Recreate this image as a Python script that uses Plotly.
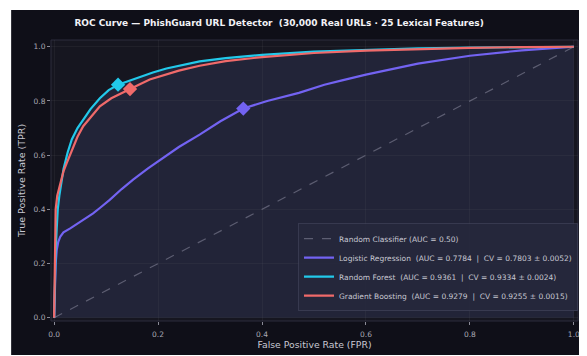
import plotly.graph_objects as go

# ---------------- data ----------------
diag_x = [0.0, 1.0]
diag_y = [0.0, 1.0]

fpr_lr = [0, 0.001, 0.003, 0.005, 0.008, 0.012, 0.018, 0.031, 0.043, 0.056, 0.075, 0.088, 0.107,
          0.13, 0.152, 0.18, 0.209, 0.24, 0.28, 0.32, 0.364, 0.41, 0.471, 0.52, 0.554, 0.60,
          0.70, 0.80, 0.90, 1.0]
tpr_lr = [0, 0.12, 0.20, 0.25, 0.28, 0.30, 0.315, 0.33, 0.345, 0.36, 0.385, 0.405, 0.435,
          0.475, 0.51, 0.55, 0.59, 0.63, 0.676, 0.725, 0.772, 0.80, 0.83, 0.86, 0.876, 0.897,
          0.938, 0.967, 0.987, 1.0]

fpr_rf = [0, 0.001, 0.003, 0.005, 0.007, 0.010, 0.014, 0.018, 0.026, 0.034, 0.045, 0.056, 0.070,
          0.088, 0.105, 0.123, 0.145, 0.165, 0.19, 0.216, 0.25, 0.28, 0.33, 0.40, 0.50, 0.60,
          0.70, 0.80, 0.90, 1.0]
tpr_rf = [0, 0.15, 0.25, 0.33, 0.40, 0.45, 0.50, 0.548, 0.61, 0.658, 0.70, 0.73, 0.77,
          0.81, 0.84, 0.86, 0.875, 0.89, 0.905, 0.92, 0.935, 0.946, 0.958, 0.970, 0.982, 0.989,
          0.994, 0.997, 0.999, 1.0]

fpr_gb = [0, 0.001, 0.002, 0.003, 0.006, 0.012, 0.018, 0.024, 0.035, 0.045, 0.056, 0.072, 0.088,
          0.110, 0.130, 0.146, 0.165, 0.184, 0.21, 0.24, 0.28, 0.33, 0.40, 0.50, 0.60, 0.70,
          0.80, 0.90, 1.0]
tpr_gb = [0, 0.22, 0.35, 0.40, 0.45, 0.50, 0.54, 0.57, 0.625, 0.668, 0.707, 0.745, 0.78,
          0.81, 0.83, 0.844, 0.862, 0.879, 0.895, 0.912, 0.93, 0.947, 0.962, 0.977, 0.986, 0.992,
          0.996, 0.999, 1.0]

# operating points (diamonds)
op_lr = (0.364, 0.772)
op_rf = (0.123, 0.860)
op_gb = (0.146, 0.844)

names = {
    "rand": "Random Classifier (AUC = 0.50)",
    "lr": "Logistic Regression  (AUC = 0.7784  |  CV = 0.7803 ± 0.0052)",
    "rf": "Random Forest  (AUC = 0.9361  |  CV = 0.9334 ± 0.0024)",
    "gb": "Gradient Boosting  (AUC = 0.9279  |  CV = 0.9255 ± 0.0015)",
}
x_ticks = [0.0, 0.2, 0.4, 0.6, 0.8, 1.0]
y_ticks = [0.0, 0.2, 0.4, 0.6, 0.8, 1.0]

# ---------------- style ----------------
C_LR = "#7363f2"
C_RF = "#22c9ea"
C_GB = "#f06a6a"
FONT = "DejaVu Sans"

fig = go.Figure()

# fill under the top curve
fig.add_trace(go.Scatter(x=fpr_rf, y=tpr_rf, mode="lines", line=dict(width=0),
                         fill="tozeroy", fillcolor="rgba(71,79,126,0.25)",
                         showlegend=False, hoverinfo="skip"))

fig.add_trace(go.Scatter(x=diag_x, y=diag_y, mode="lines", name=names["rand"],
                         line=dict(color="rgba(140,140,160,0.55)", width=1.2, dash="dash")))
fig.add_trace(go.Scatter(x=fpr_lr, y=tpr_lr, mode="lines", name=names["lr"],
                         line=dict(color=C_LR, width=2.2)))
fig.add_trace(go.Scatter(x=fpr_rf, y=tpr_rf, mode="lines", name=names["rf"],
                         line=dict(color=C_RF, width=2.2)))
fig.add_trace(go.Scatter(x=fpr_gb, y=tpr_gb, mode="lines", name=names["gb"],
                         line=dict(color=C_GB, width=2.2)))

for (px, py), c in [(op_lr, C_LR), (op_rf, C_RF), (op_gb, C_GB)]:
    fig.add_trace(go.Scatter(x=[px], y=[py], mode="markers", showlegend=False,
                             marker=dict(symbol="diamond", size=11, color=c,
                                         line=dict(width=0))))

# page layout (the page body adds an 8px offset on top/left)
W, H = 579, 348
L, R, T, B = 43, 7, 32, 34
pw, ph = W - L - R, H - T - B

def px2x(p):
    return (p - L) / pw

def py2y(p):
    return (H - B - p) / ph

shapes = [
    dict(type="rect", xref="paper", yref="paper", layer="below",
         x0=px2x(3), x1=px2x(W), y0=py2y(H), y1=py2y(2),
         fillcolor="#0f0f18", line=dict(width=0)),
    dict(type="rect", xref="paper", yref="paper", layer="below",
         x0=0, x1=1, y0=0, y1=1,
         fillcolor="#161620", line=dict(color="#2c2d3d", width=1)),
]

axis_common = dict(
    showgrid=True, gridcolor="rgba(255,255,255,0.045)", gridwidth=1,
    zeroline=False, showline=False,
    ticks="outside", ticklen=3, tickcolor="#8a8a96", tickwidth=1,
    tickfont=dict(family=FONT, size=7.5, color="#a9a9b4"),
    tickformat=".1f",
)

fig.update_layout(
    width=W, height=H,
    margin=dict(l=L, r=R, t=T, b=B),
    paper_bgcolor="white",
    plot_bgcolor="rgba(0,0,0,0)",
    shapes=shapes,
    title=dict(
        text="<b>ROC Curve — PhishGuard URL Detector \u00a0(30,000 Real URLs · 25 Lexical Features)</b>",
        font=dict(family=FONT, size=9, color="#f2f2f6"),
        x=px2x(272), xref="paper", xanchor="center",
        y=1 - 15 / H, yref="container", yanchor="middle",
    ),
    xaxis=dict(axis_common, range=[-0.006, 1.008], tickvals=x_ticks, ticklabelstandoff=3,
               title=dict(text="False Positive Rate (FPR)", standoff=3,
                          font=dict(family=FONT, size=9.3, color="#c8c8d2"))),
    yaxis=dict(axis_common, range=[-0.012, 1.025], tickvals=y_ticks,
               title=dict(text="True Positive Rate (TPR)", standoff=6,
                          font=dict(family=FONT, size=9.5, color="#c8c8d2"))),
    legend=dict(
        x=1.0, y=0.035, xanchor="right", yanchor="bottom",
        bgcolor="rgba(38,40,60,0.9)", bordercolor="rgba(70,72,95,0.6)", borderwidth=1,
        font=dict(family=FONT, size=7.5, color="#c8c8d2"),
        tracegroupgap=0, itemwidth=30,
    ),
    showlegend=True,
)

fig.write_html("out.html")
